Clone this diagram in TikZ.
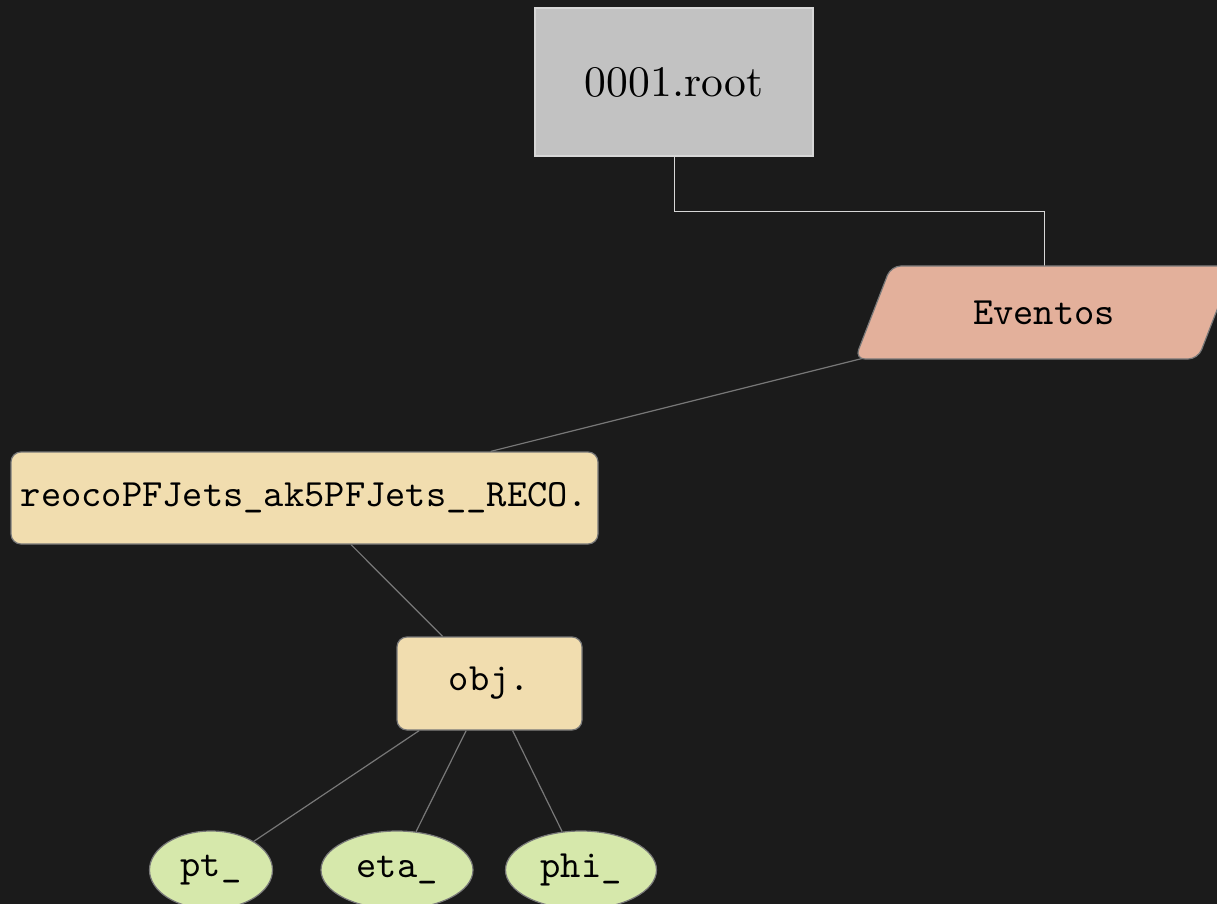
\documentclass[tikz,border=0pt]{standalone}
\usepackage{fontspec}
\newfontfamily\rootfont{lmroman10-regular.otf}
\newfontfamily\monofont{lmmono10-regular.otf}
\usetikzlibrary{shapes.geometric}
\pgfdeclarelayer{bg}
\pgfsetlayers{bg,main}
\definecolor{bgdark}{RGB}{27,27,27}
\definecolor{rootfill}{RGB}{194,194,194}
\definecolor{evfill}{RGB}{227,176,155}
\definecolor{wheatfill}{RGB}{241,221,175}
\definecolor{greenfill}{RGB}{214,232,171}
\definecolor{edgegray}{RGB}{120,120,120}
\definecolor{connlight}{RGB}{215,215,215}
\tikzset{
  rootbox/.style={draw=connlight, line width=0.6pt, fill=rootfill, minimum width=139pt, minimum height=74pt, inner sep=0pt,
    font=\rootfont\fontsize{21.8}{26}\selectfont},
  wbox/.style={draw=edgegray, line width=0.6pt, fill=wheatfill, rounded corners=5pt, inner sep=0pt,
    font=\monofont\fontsize{19.3}{23}\selectfont},
  leaf/.style={ellipse, draw=edgegray, line width=0.6pt, fill=greenfill, inner sep=0pt, minimum height=39pt,
    font=\monofont\fontsize{19.3}{23}\selectfont},
  conn/.style={draw=edgegray, line width=0.6pt},
  rconn/.style={draw=connlight, line width=0.5pt},
}
\begin{document}
\begin{tikzpicture}[x=0.5pt, y=-0.5pt]
\useasboundingbox (0,0) rectangle (1217,904);
\clip (0,0) rectangle (1217,904);

\node[rootbox] (root) at (674,82) {0001.root};

\fill[evfill, draw=edgegray, line width=0.6pt, rounded corners=5pt]
  (855,359) -- (891,266) -- (1234,266) -- (1198,359) -- cycle;
\node[inner sep=0pt, font=\monofont\fontsize{19.3}{23}\selectfont] (ev) at (1044,313) {Eventos};
\coordinate (evtop) at (1044,266);

\node[wbox, minimum width=293.5pt, minimum height=46pt] (reco) at (304.5,498) {reocoPFJets\_ak5PFJets\_\_RECO.};
\node[wbox, minimum width=92.5pt, minimum height=46.5pt] (obj) at (489.5,683.5) {obj.};

\node[leaf, minimum width=61.5pt] (pt) at (211,870) {pt\_};
\node[leaf, minimum width=76pt] (eta) at (397,870) {eta\_};
\node[leaf, minimum width=75.5pt] (phi) at (581,870) {phi\_};

\begin{pgfonlayer}{bg}
\fill[bgdark] (0,0) rectangle (1217,904);
\draw[rconn] (root.south) -- ++(0,55) -| (evtop);
\draw[conn] (ev.center) -- (reco);
\end{pgfonlayer}
\draw[conn] (reco) -- (obj);
\draw[conn] (obj) -- (pt);
\draw[conn] (obj) -- (eta);
\draw[conn] (obj) -- (phi);
\end{tikzpicture}
\end{document}
